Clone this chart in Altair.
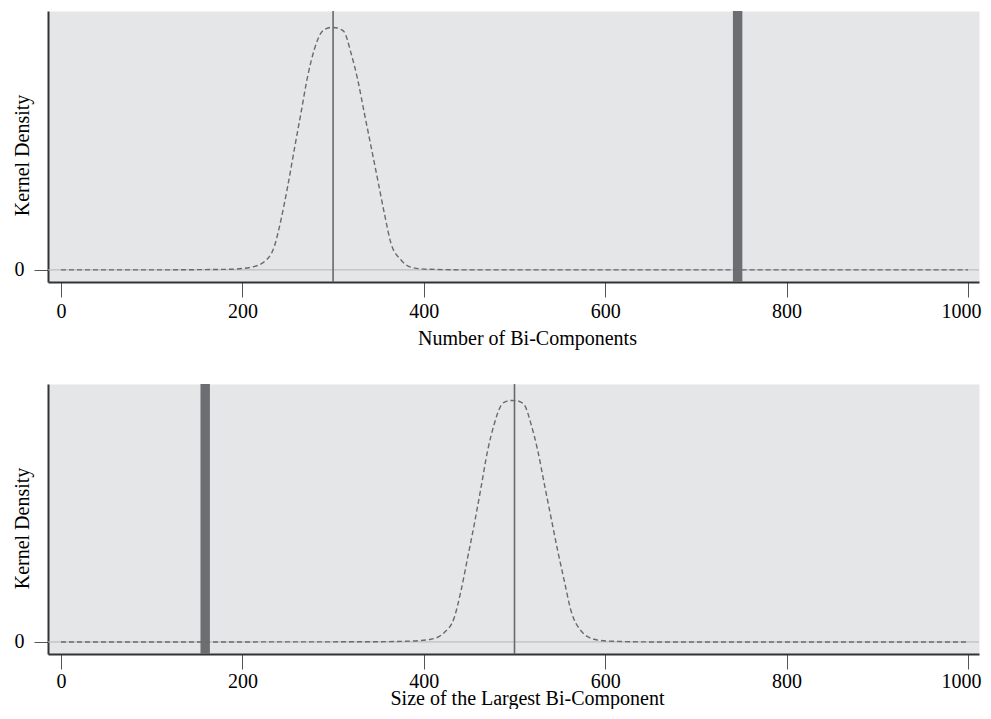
import altair as alt
import pandas as pd

# ---- data ----
top_x = [0, 100, 150, 187.4, 209.5, 224.1, 235.2, 242.6, 249.9, 257.2, 264.6, 272.0, 279.3,
         286.7, 292.0, 297.7, 303.0, 308.0, 312.3, 319.7, 327.1, 334.4, 341.8, 349.2, 356.5,
         363.8, 374.9, 385.9, 404.3, 450, 600, 800, 1000]
top_density = [0, 0, 0.00001, 0.00003, 0.00012, 0.00037, 0.00106, 0.00228, 0.00378, 0.00546,
               0.00712, 0.00879, 0.01000, 0.01076, 0.01094, 0.01100, 0.01099, 0.01092, 0.01080,
               0.00985, 0.00864, 0.00712, 0.00561, 0.00409, 0.00257, 0.00121, 0.00045, 0.00012,
               0.00003, 0, 0, 0, 0]

bottom_x = [0, 200, 350, 385.9, 407.9, 422.6, 433.6, 441.0, 448.4, 455.7, 463.1, 470.4, 477.7,
            485.1, 491.0, 497.0, 502.5, 507.0, 510.8, 518.2, 525.6, 532.9, 540.2, 547.6, 554.9,
            562.3, 573.3, 588.0, 602.8, 650, 800, 1000]
bottom_density = [0, 0, 0.00001, 0.00004, 0.00012, 0.00043, 0.00111, 0.00233, 0.00385, 0.00537,
                  0.00704, 0.00872, 0.00993, 0.01077, 0.01096, 0.01100, 0.01099, 0.01092, 0.01081,
                  0.00993, 0.00872, 0.00719, 0.00568, 0.00416, 0.00278, 0.00142, 0.00051, 0.00012,
                  0.00004, 0, 0, 0]

top_center = [300]
top_observed = [746]
bottom_center = [500]
bottom_observed = [159]

x_ticks = [0, 200, 400, 600, 800, 1000]
y_ticks = [0]

FONT = "Liberation Serif"
X_DOMAIN = [-14.3, 1012.1]
Y_DOMAIN = [-0.00055, 0.01175]
BAR_HALF = 5.2  # half width of the observed-value bar, in axis units


def panel(xs, ds, center, observed, title, height, label_pad, title_y):
    xscale = alt.Scale(domain=X_DOMAIN, nice=False, zero=False)
    yscale = alt.Scale(domain=Y_DOMAIN, nice=False, zero=False)
    xaxis = alt.Axis(values=x_ticks, format="d", title=title, grid=False,
                     tickSize=15, labelPadding=label_pad, labelBaseline="alphabetic",
                     labelOffset={"condition": {"test": "datum.value == 1000", "value": -7},
                                  "value": 0},
                     titleX=479, titleY=title_y, titleBaseline="alphabetic",
                     titleAlign="center", titleAnchor="start")
    yaxis = alt.Axis(values=y_ticks, format="d", title="Kernel Density", grid=False,
                     tickSize=14, labelPadding=10, labelBaseline="middle",
                     titleX=-20, titleY=144, titleBaseline="alphabetic",
                     titleAlign="center", titleAngle=270)

    dens = pd.DataFrame({"value": xs, "density": ds})
    zero = pd.DataFrame({"density": [0]})
    cen = pd.DataFrame({"value": center})
    obs = pd.DataFrame({"value": observed})

    X = alt.X("value:Q", scale=xscale, axis=xaxis)
    Y = alt.Y("density:Q", scale=yscale, axis=yaxis)

    zero_line = alt.Chart(zero).mark_rule(color="#b4b4b4", strokeWidth=1).encode(y=Y)
    obs_bar = alt.Chart(obs).transform_calculate(
        lo=f"datum.value - {BAR_HALF}", hi=f"datum.value + {BAR_HALF}"
    ).mark_rect(color="#6d6e71").encode(
        x=alt.X("lo:Q", scale=xscale, axis=xaxis), x2="hi:Q"
    )
    curve = alt.Chart(dens).mark_line(color="#6a6a6a", strokeWidth=1.4,
                                      strokeDash=[5, 3], interpolate="monotone").encode(x=X, y=Y)
    cen_line = alt.Chart(cen).mark_rule(color="#6a6a6a", strokeWidth=1.6).encode(x=X)

    return alt.layer(zero_line, obs_bar, curve, cen_line).properties(width=931, height=height)


top = panel(top_x, top_density, top_center, top_observed,
            "Number of Bi-Components", 271, 20, 62)
bottom = panel(bottom_x, bottom_density, bottom_center, bottom_observed,
               "Size of the Largest Bi-Component", 270, 18, 50)

chart = alt.vconcat(top, bottom, spacing=33).properties(
    padding={"top": 1, "left": 3, "right": 0, "bottom": 0},
    background="white",
).configure_view(
    fill="#e5e6e8", stroke="transparent"
).configure_axis(
    domainColor="#333333", domainWidth=2, tickColor="#555555", tickWidth=1,
    labelFont=FONT, labelFontSize=20, labelColor="black",
    titleFont=FONT, titleFontSize=20, titleColor="black", titleFontWeight="normal",
)

chart.save("out.html", embed_options={"renderer": "svg", "actions": False})
